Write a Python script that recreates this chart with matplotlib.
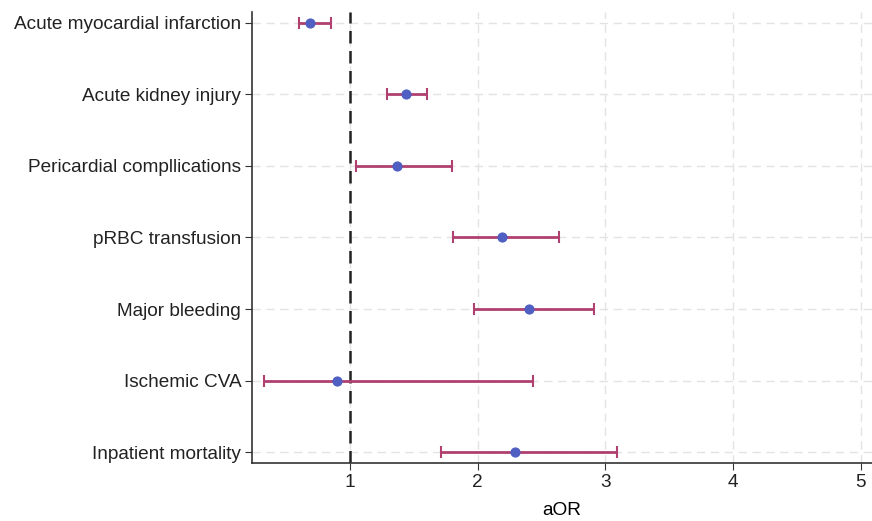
import matplotlib
matplotlib.use("Agg")
import matplotlib.pyplot as plt

outcomes = ["Acute myocardial infarction", "Acute kidney injury", "Pericardial compllications",
            "pRBC transfusion", "Major bleeding", "Ischemic CVA", "Inpatient mortality"]
aor = [0.69, 1.44, 1.37, 2.19, 2.40, 0.90, 2.29]
ci_low = [0.60, 1.29, 1.05, 1.81, 1.97, 0.33, 1.71]
ci_high = [0.85, 1.60, 1.80, 2.64, 2.91, 2.43, 3.09]
xticks = [1, 2, 3, 4, 5]

plt.rcParams['font.family'] = ['Liberation Sans', 'DejaVu Sans']

fig = plt.figure(figsize=(8.72, 5.21), dpi=100)
ax = fig.add_axes([0.2894, 0.1113, 0.7106, 0.8657])

ypos = list(range(len(outcomes)))
xerr = [[a - l for a, l in zip(aor, ci_low)], [h - a for a, h in zip(aor, ci_high)]]
ax.errorbar(aor, ypos, xerr=xerr, fmt='none', ecolor='#b0406f', elinewidth=2,
            capsize=4, capthick=1.5, zorder=3)
ax.scatter(aor, ypos, color='#4f5fc2', s=40, zorder=4)

ax.axvline(1, color='#222222', linestyle=(0, (5, 3)), linewidth=1.8, zorder=2)

ax.set_yticks(ypos)
ax.set_yticklabels(outcomes, fontsize=13.7)
ax.set_xticks(xticks)
ax.set_xticklabels([str(t) for t in xticks], fontsize=13.7)
ax.set_xlim(0.235, 5.09)
ax.set_ylim(6.15, -0.15)
ax.set_xlabel("aOR", fontsize=13.7, labelpad=8)

ax.grid(True, color='#e3e3e3', linestyle=(0, (6, 4)), linewidth=1, zorder=0)
ax.set_axisbelow(True)
for s in ['top', 'right']:
    ax.spines[s].set_visible(False)
for s in ['left', 'bottom']:
    ax.spines[s].set_color('#333333')
    ax.spines[s].set_linewidth(1.2)
ax.tick_params(length=5, color='#333333', labelcolor='#222222', pad=3)

fig.savefig("out.png", dpi=100)
